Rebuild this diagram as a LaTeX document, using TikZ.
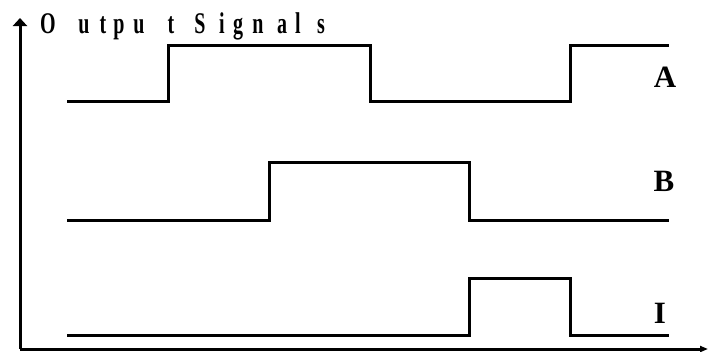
\documentclass[tikz,border=0pt]{standalone}
\usepackage{fontspec}
\usepackage{graphicx}
\setmainfont{Liberation Serif}
\usetikzlibrary{arrows.meta}
\tikzset{
  sig/.style={line width=3pt, line join=miter},
  axis/.style={line width=3pt},
  ttl/.style={anchor=base, inner sep=0pt, font=\fontsize{20}{20}\selectfont\bfseries},
  lbl/.style={anchor=center, inner sep=0pt, font=\fontsize{31}{31}\selectfont\bfseries}
}
\newcommand\strch[1]{\scalebox{1}[1.5]{#1}}
\begin{document}
\begin{tikzpicture}[x=1pt,y=-1pt]
\useasboundingbox (0,0) rectangle (709,351);
% axes
\coordinate (o) at (20,349);
\coordinate (ytop) at (20,18);
\coordinate (xend) at (708,349);
\draw[axis,-{Triangle[width=14pt,length=8pt]}] (o) -- (ytop);
\draw[axis,-{Triangle[width=6pt,length=8pt]}] (o) -- (xend);
% title
\node[ttl] (t1) at (48,33) {\strch{O}};
\node[ttl] (t2) at (84,33) {\strch{u}};
\node[ttl] (t3) at (103,33) {\strch{t}};
\node[ttl] (t4) at (119,33) {\strch{p}};
\node[ttl] (t5) at (139,33) {\strch{u}};
\node[ttl] (t6) at (171,33) {\strch{t}};
\node[ttl] (t7) at (200,33) {\strch{S}};
\node[ttl] (t8) at (222,33) {\strch{i}};
\node[ttl] (t9) at (238,33) {\strch{g}};
\node[ttl] (t10) at (258,33) {\strch{n}};
\node[ttl] (t11) at (282,33) {\strch{a}};
\node[ttl] (t12) at (298,33) {\strch{l}};
\node[ttl] (t13) at (321,33) {\strch{s}};
% signal A
\draw[sig] (67,101) -- (168.5,101) -- (168.5,45) -- (370,45) -- (370,101) -- (570,101) -- (570,45) -- (669,45);
% signal B
\draw[sig] (67,220) -- (269,220) -- (269,162) -- (469,162) -- (469,220) -- (669,220);
% signal I
\draw[sig] (67,335) -- (469,335) -- (469,278) -- (570,278) -- (570,335) -- (669,335);
% labels
\node[lbl] (la) at (665,77) {A};
\node[lbl] (lb) at (664,181) {B};
\node[lbl] (li) at (660,313) {I};
\end{tikzpicture}
\end{document}
